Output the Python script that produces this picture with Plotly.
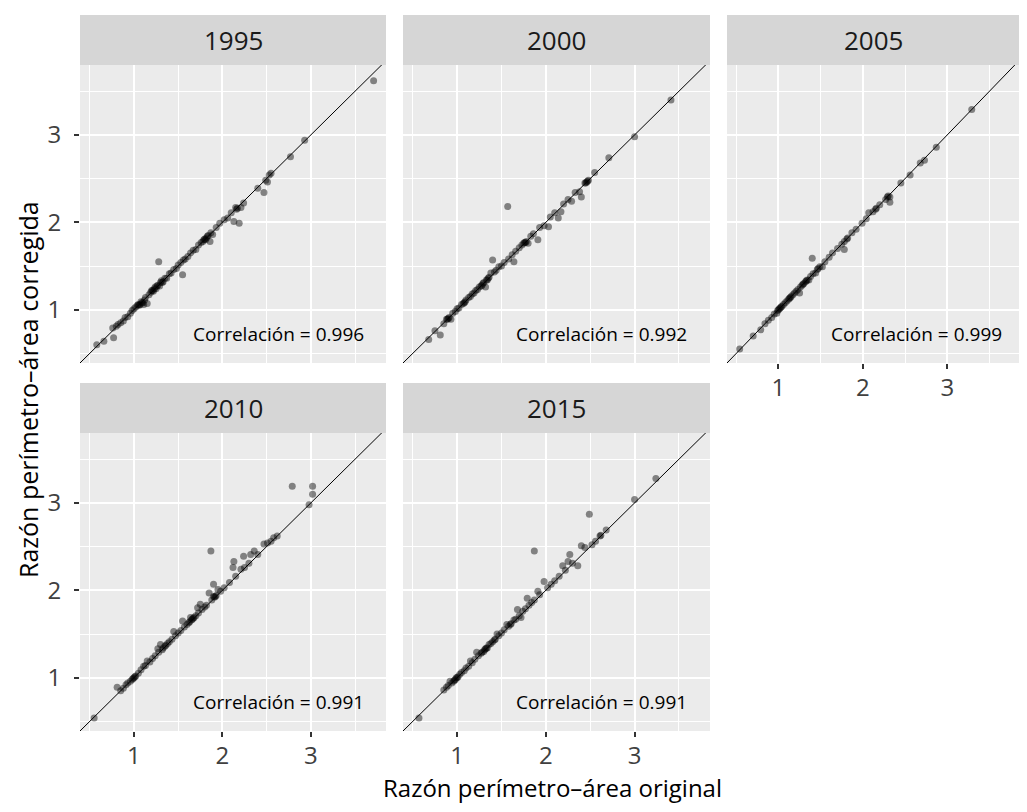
import plotly.graph_objects as go

# ---------------- data ----------------
years = ["1995", "2000", "2005", "2010", "2015"]
correlations = ["0.996", "0.992", "0.999", "0.991", "0.991"]

x_1995 = [0.58,0.66,0.76,0.77,0.80,0.82,0.85,0.88,0.90,0.93,0.96,0.98,1.00,1.02,1.04,1.05,1.07,1.08,1.10,1.11,1.13,1.15,1.17,1.19,1.20,1.22,1.24,1.25,1.27,1.28,1.29,1.30,1.31,1.33,1.35,1.37,1.40,1.42,1.45,1.48,1.50,1.53,1.55,1.56,1.58,1.61,1.64,1.67,1.70,1.73,1.76,1.78,1.80,1.82,1.84,1.86,1.87,1.89,1.93,1.97,2.02,2.06,2.10,2.13,2.15,2.17,2.19,2.21,2.24,2.40,2.47,2.49,2.51,2.53,2.55,2.77,2.93,3.71,
          1.06,1.09,1.12,1.21,1.23,1.26,1.32,1.79,1.81,1.83,2.16]
y_1995 = [0.60,0.64,0.79,0.68,0.81,0.83,0.85,0.87,0.91,0.92,0.96,0.99,1.01,1.03,1.05,1.06,1.06,1.09,1.08,1.06,1.14,1.07,1.17,1.20,1.22,1.21,1.26,1.24,1.28,1.55,1.27,1.31,1.33,1.32,1.36,1.36,1.41,1.42,1.46,1.47,1.51,1.54,1.40,1.57,1.58,1.61,1.65,1.68,1.69,1.74,1.77,1.78,1.81,1.82,1.85,1.78,1.88,1.86,1.94,1.99,2.03,2.05,2.11,2.01,2.17,2.16,1.99,2.17,2.22,2.39,2.34,2.48,2.46,2.54,2.56,2.75,2.94,3.62,
          1.05,1.08,1.11,1.22,1.24,1.27,1.31,1.80,1.80,1.84,2.15]

x_2000 = [0.68,0.75,0.81,0.85,0.88,0.90,0.93,0.95,0.98,1.00,1.02,1.05,1.08,1.10,1.13,1.15,1.17,1.19,1.21,1.23,1.25,1.28,1.30,1.32,1.33,1.35,1.38,1.40,1.42,1.44,1.47,1.50,1.53,1.57,1.58,1.62,1.64,1.66,1.70,1.73,1.76,1.78,1.80,1.83,1.86,1.91,1.93,1.98,2.03,2.05,2.10,2.14,2.17,2.20,2.25,2.29,2.33,2.38,2.40,2.44,2.46,2.48,2.55,2.71,3.00,3.41,
          0.89,0.91,1.07,1.09,1.27,1.29,1.34,1.36,1.75,1.77,2.45,2.47]
y_2000 = [0.66,0.76,0.71,0.84,0.89,0.90,0.89,0.96,0.98,1.01,1.02,1.06,1.08,1.11,1.14,1.15,1.18,1.19,1.22,1.23,1.26,1.28,1.31,1.26,1.34,1.36,1.42,1.57,1.43,1.45,1.49,1.50,1.54,2.18,1.58,1.63,1.55,1.67,1.71,1.74,1.77,1.78,1.76,1.84,1.87,1.80,1.94,1.96,1.95,2.06,2.11,2.05,2.12,2.21,2.26,2.24,2.34,2.35,2.29,2.45,2.46,2.48,2.57,2.74,2.98,3.40,
          0.89,0.91,1.07,1.09,1.27,1.30,1.34,1.37,1.76,1.77,2.45,2.47]

x_2005 = [0.54,0.70,0.79,0.84,0.88,0.92,0.95,0.98,1.00,1.02,1.04,1.06,1.08,1.10,1.12,1.15,1.17,1.19,1.21,1.23,1.25,1.26,1.28,1.30,1.32,1.34,1.36,1.38,1.40,1.41,1.44,1.46,1.49,1.52,1.55,1.60,1.64,1.70,1.75,1.78,1.78,1.82,1.87,1.92,1.99,2.04,2.07,2.12,2.16,2.20,2.27,2.30,2.32,2.32,2.45,2.56,2.68,2.73,2.87,3.29,
          0.99,1.01,1.03,1.13,1.14,1.29,1.33,1.47,1.81,2.15,2.29]
y_2005 = [0.55,0.70,0.77,0.84,0.88,0.91,0.95,0.96,1.00,1.02,1.04,1.06,1.08,1.10,1.12,1.15,1.17,1.19,1.21,1.23,1.19,1.26,1.28,1.30,1.32,1.34,1.34,1.38,1.59,1.41,1.42,1.46,1.49,1.49,1.55,1.60,1.65,1.70,1.75,1.78,1.69,1.82,1.88,1.92,1.99,2.04,2.11,2.12,2.16,2.20,2.26,2.30,2.29,2.23,2.45,2.54,2.68,2.71,2.86,3.29,
          0.99,1.01,1.03,1.13,1.14,1.29,1.33,1.47,1.81,2.15,2.29]

x_2010 = [0.55,0.81,0.85,0.88,0.91,0.93,0.96,0.98,1.00,1.02,1.05,1.08,1.11,1.13,1.15,1.18,1.21,1.24,1.27,1.28,1.30,1.32,1.35,1.38,1.40,1.43,1.45,1.47,1.50,1.53,1.55,1.57,1.60,1.62,1.64,1.66,1.68,1.70,1.72,1.73,1.75,1.77,1.80,1.82,1.85,1.87,1.88,1.90,1.90,1.92,1.95,1.98,2.02,2.08,2.12,2.13,2.15,2.21,2.24,2.25,2.30,2.32,2.36,2.40,2.47,2.51,2.55,2.58,2.62,2.79,2.98,3.02,3.02,
          0.99,1.01,1.33,1.36,1.63,1.65,1.67,1.91,1.93]
y_2010 = [0.54,0.89,0.85,0.88,0.92,0.94,0.96,0.98,1.00,1.02,1.05,1.09,1.13,1.14,1.19,1.18,1.22,1.25,1.33,1.29,1.38,1.32,1.36,1.39,1.41,1.44,1.53,1.48,1.51,1.54,1.65,1.58,1.61,1.63,1.69,1.67,1.69,1.71,1.80,1.74,1.84,1.78,1.81,1.83,1.97,2.45,1.89,1.93,2.07,1.93,2.01,1.99,2.03,2.09,2.26,2.33,2.16,2.24,2.39,2.26,2.31,2.41,2.45,2.41,2.53,2.54,2.56,2.60,2.62,3.19,2.98,3.10,3.19,
          0.99,1.01,1.34,1.37,1.64,1.66,1.68,1.92,1.94]

x_2015 = [0.57,0.85,0.88,0.90,0.92,0.94,0.97,0.99,1.01,1.03,1.05,1.08,1.10,1.13,1.15,1.17,1.20,1.22,1.24,1.27,1.30,1.32,1.34,1.36,1.38,1.40,1.43,1.45,1.47,1.50,1.53,1.56,1.58,1.61,1.64,1.66,1.68,1.70,1.72,1.74,1.77,1.79,1.81,1.84,1.87,1.87,1.91,1.93,1.98,2.02,2.06,2.10,2.15,2.19,2.22,2.25,2.27,2.30,2.36,2.40,2.44,2.49,2.52,2.56,2.61,2.68,3.00,3.24,
          0.96,0.98,1.00,1.28,1.31,1.33,1.42,1.60,2.62]
y_2015 = [0.54,0.86,0.89,0.91,0.96,0.94,0.97,1.00,1.01,1.04,1.06,1.08,1.11,1.13,1.19,1.17,1.21,1.29,1.25,1.28,1.30,1.33,1.34,1.38,1.39,1.41,1.44,1.50,1.48,1.51,1.55,1.61,1.59,1.62,1.66,1.67,1.78,1.71,1.69,1.76,1.79,1.91,1.83,1.86,2.45,1.89,1.99,1.95,2.10,2.03,2.07,2.11,2.16,2.28,2.23,2.33,2.41,2.31,2.28,2.51,2.49,2.87,2.52,2.56,2.62,2.69,3.04,3.28,
          0.96,0.98,1.00,1.29,1.32,1.34,1.43,1.61,2.63]

xs = [x_1995, x_2000, x_2005, x_2010, x_2015]
ys = [y_1995, y_2000, y_2005, y_2010, y_2015]

identity_line = [0.0, 4.5]
tick_vals = [1, 2, 3]
tick_text = ["1", "2", "3"]
x_range = [0.39, 3.85]
y_range = [0.39, 3.80]

# ---------------- layout geometry (page pixels) ----------------
PAGE_W, PAGE_H = 1027, 812
OFF = 8                                # default body margin of the html page
W, H = PAGE_W - 2 * OFF, PAGE_H - 2 * OFF
col_px = [(80, 386), (403, 710), (727, 1019)]
row_px = [(65, 363), (433, 731)]      # panel top/bottom
strip_h = 50
positions = [(0, 0), (0, 1), (0, 2), (1, 0), (1, 1)]


def fx(px):
    return (px - OFF) / W


def fy(py):
    return 1 - (py - OFF) / H


FONT = "Open Sans"
STRIP_BG = "#D6D6D6"
PANEL_BG = "#EBEBEB"

fig = go.Figure()
shapes = []
annotations = []
layout_axes = {}

for i, (r, c) in enumerate(positions):
    n = i + 1
    xa = "x" if n == 1 else f"x{n}"
    ya = "y" if n == 1 else f"y{n}"
    x0p, x1p = col_px[c]
    y0p, y1p = row_px[r]
    xdom = [max(0, fx(x0p)), min(1, fx(x1p))]
    ydom = [max(0, fy(y1p)), min(1, fy(y0p))]

    show_x = (r == 1) or (c == 2)
    show_y = (c == 0)

    common_grid = dict(
        showgrid=True, gridcolor="white", gridwidth=1.8,
        zeroline=False, showline=False,
        minor=dict(dtick=0.5, tick0=0.5, showgrid=True, gridcolor="white", gridwidth=0.9),
        tickvals=tick_vals, ticktext=tick_text,
        tickfont=dict(family=FONT, size=24, color="#404040"),
        tickcolor="#333333", ticklen=5, tickwidth=2,
        fixedrange=True,
    )
    layout_axes["xaxis" if n == 1 else f"xaxis{n}"] = dict(
        domain=xdom, range=x_range, anchor=ya,
        showticklabels=show_x, ticks="outside" if show_x else "",
        ticklabelstandoff=-2,
        **common_grid)
    layout_axes["yaxis" if n == 1 else f"yaxis{n}"] = dict(
        domain=ydom, range=y_range, anchor=xa,
        showticklabels=show_y, ticks="outside" if show_y else "",
        ticklabelstandoff=8,
        **common_grid)

    # points
    fig.add_trace(go.Scatter(
        x=xs[i], y=ys[i], mode="markers", xaxis=xa, yaxis=ya,
        marker=dict(size=7, color="rgba(0,0,0,0.45)", line=dict(width=0)),
        showlegend=False, hoverinfo="skip"))
    # identity line
    fig.add_trace(go.Scatter(
        x=identity_line, y=identity_line, mode="lines", xaxis=xa, yaxis=ya,
        line=dict(color="black", width=1), showlegend=False, hoverinfo="skip"))

    # strip
    shapes.append(dict(type="rect", xref="paper", yref="paper",
                       x0=xdom[0], x1=xdom[1],
                       y0=ydom[1], y1=fy(y0p - strip_h),
                       fillcolor=STRIP_BG, line=dict(width=0), layer="below"))
    annotations.append(dict(text=years[i], xref="paper", yref="paper",
                            x=(xdom[0] + xdom[1]) / 2,
                            y=fy(y0p - strip_h / 2),
                            showarrow=False, xanchor="center", yanchor="middle",
                            font=dict(family=FONT, size=26, color="#1A1A1A")))
    # correlation text
    annotations.append(dict(text=f"Correlación = {correlations[i]}",
                            xref=xa, yref=ya, x=2.63, y=0.72,
                            showarrow=False, xanchor="center", yanchor="middle",
                            font=dict(family=FONT, size=19, color="black")))

# axis titles
annotations.append(dict(text="Razón perímetro–área original", xref="paper", yref="paper",
                        x=fx((80 + 1025) / 2), y=fy(787),
                        showarrow=False, xanchor="center", yanchor="middle",
                        font=dict(family=FONT, size=24, color="black")))
annotations.append(dict(text="Razón perímetro–área corregida", xref="paper", yref="paper",
                        x=fx(28), y=fy(390), textangle=-90,
                        showarrow=False, xanchor="center", yanchor="middle",
                        font=dict(family=FONT, size=25, color="black")))

fig.update_layout(
    width=W, height=H, autosize=False,
    margin=dict(l=0, r=0, t=0, b=0),
    paper_bgcolor="white", plot_bgcolor=PANEL_BG,
    shapes=shapes, annotations=annotations,
    showlegend=False,
    **layout_axes,
)

fig.write_html("out.html")
